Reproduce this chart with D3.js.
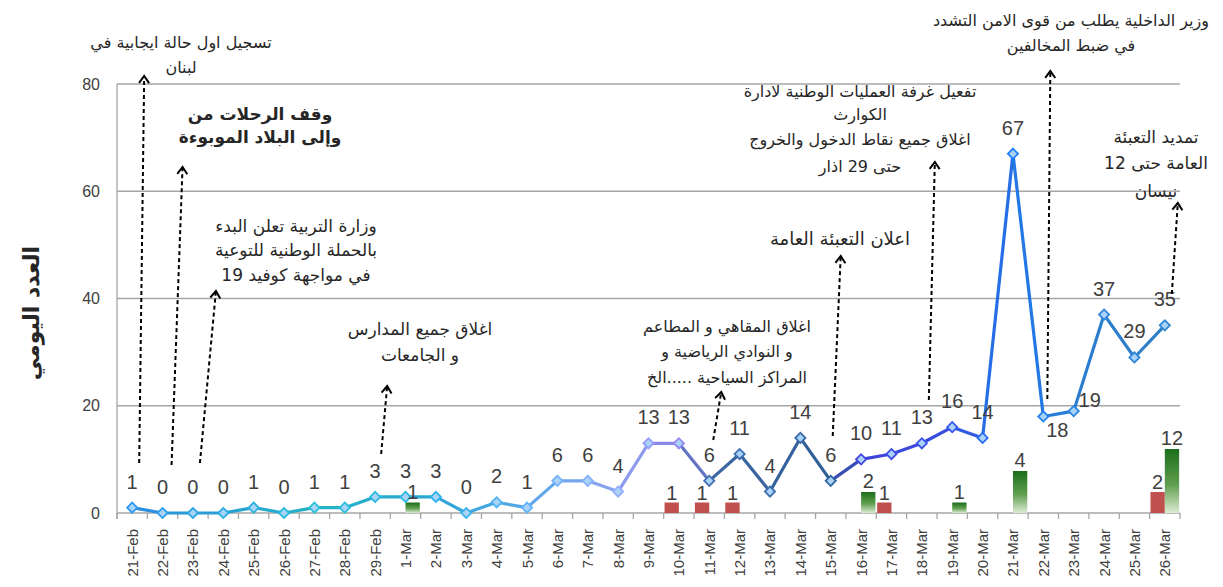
<!DOCTYPE html>
<html>
<head>
<meta charset="utf-8">
<script src="https://cdn.jsdelivr.net/npm/d3@7/dist/d3.min.js"></script>
<style>
  body { margin: 0; background: #fff; }
  svg { display: block; }
  .num { font-family: "Liberation Sans", Arial, sans-serif; fill: #404040; }
  .ar { font-family: "DejaVu Sans", sans-serif; fill: #262626; }
</style>
</head>
<body>
<div id="chart"></div>
<script>
  // ---- data ----
  var dates = ["21-Feb", "22-Feb", "23-Feb", "24-Feb", "25-Feb", "26-Feb", "27-Feb", "28-Feb", "29-Feb",
               "1-Mar", "2-Mar", "3-Mar", "4-Mar", "5-Mar", "6-Mar", "7-Mar", "8-Mar", "9-Mar", "10-Mar",
               "11-Mar", "12-Mar", "13-Mar", "14-Mar", "15-Mar", "16-Mar", "17-Mar", "18-Mar", "19-Mar",
               "20-Mar", "21-Mar", "22-Mar", "23-Mar", "24-Mar", "25-Mar", "26-Mar"];
  var daily = [1, 0, 0, 0, 1, 0, 1, 1, 3,
               3, 3, 0, 2, 1, 6, 6, 4, 13, 13,
               6, 11, 4, 14, 6, 10, 11, 13, 16,
               14, 67, 18, 19, 37, 29, 35];
  var deathDates = ["10-Mar", "11-Mar", "12-Mar", "17-Mar", "26-Mar"];
  var deathValues = [1, 1, 1, 1, 2];
  var recoveredDates = ["1-Mar", "16-Mar", "19-Mar", "21-Mar", "26-Mar"];
  var recoveredValues = [1, 2, 1, 4, 12];
  var yTicks = [0, 20, 40, 60, 80];
  var yTitle = "العدد اليومي";

  var noteDates = ["21-Feb", "22-Feb", "23-Feb", "29-Feb", "11-Mar", "15-Mar", "18-Mar", "22-Mar", "26-Mar"];
  var noteTexts = [
    ["تسجيل اول حالة ايجابية في", "لبنان"],
    ["وقف الرحلات من", "وإلى البلاد الموبوءة"],
    ["وزارة التربية تعلن البدء", "بالحملة الوطنية للتوعية", "في مواجهة كوفيد 19"],
    ["اغلاق جميع المدارس", "و الجامعات"],
    ["اغلاق المقاهي و المطاعم", "و النوادي الرياضية و", "المراكز السياحية .....الخ"],
    ["اعلان التعبئة العامة"],
    ["تفعيل غرفة العمليات الوطنية لادارة", "الكوارث", "اغلاق جميع نقاط الدخول والخروج", "حتى 29 اذار"],
    ["وزير الداخلية يطلب من قوى الامن التشدد", "في ضبط المخالفين"],
    ["تمديد التعبئة", "العامة حتى 12", "نيسان"]
  ];

  // where each note sits (text centre, line centres) and where its arrow runs
  var noteLayout = [
    {tx: 181, ty: [42, 67], fs: 16, b0: [7, 463], b1: [12, 76]},
    {tx: 260, ty: [114, 137], fs: 17, bold: true, b0: [9, 465], b1: [20, 167]},
    {tx: 296, ty: [226, 250, 275], fs: 17, b0: [7, 463], b1: [23, 291]},
    {tx: 420, ty: [329, 355], fs: 17, b0: [6, 454], b1: [12, 386]},
    {tx: 727, ty: [326, 351, 377], fs: 16, b0: [4, 440], b1: [12, 392]},
    {tx: 840, ty: [238], fs: 18, b0: [2, 436], b1: [10, 256]},
    {tx: 860, ty: [91, 114, 139, 166], fs: 16, b0: [7, 400], b1: [13, 162]},
    {tx: 1071, ty: [20, 45], fs: 16, b0: [4, 399], b1: [7, 71]},
    {tx: 1156, ty: [137, 163, 191], fs: 17, b0: [7, 294], b1: [13, 203]}
  ];

  var width = 1223, height = 587;
  var margin = {top: 84, right: 43, bottom: 74, left: 117};
  var innerW = width - margin.left - margin.right,
      innerH = height - margin.top - margin.bottom;

  var svg = d3.select("#chart")
              .append("svg")
              .attr("width", width)
              .attr("height", height);

  var x = d3.scaleBand()
            .domain(dates)
            .range([margin.left, margin.left + innerW])
            .padding(0);
  var bw = x.bandwidth();
  var cx = function(d) { return x(d) + bw / 2; };

  var y = d3.scaleLinear()
            .domain([0, 80])
            .range([margin.top + innerH, margin.top]);

  // the bars in the original follow their own (uneven) secondary scale
  var yBar = d3.scaleLinear()
               .domain([0, 4, 12])
               .range([y(0), y(0) - 42, y(0) - 64]);

  var xGroup = d3.scaleBand()
                 .domain(["deaths", "recovered"])
                 .range([0, bw])
                 .paddingInner(0)
                 .paddingOuter(0.06);

  // gridlines
  svg.append("g")
     .selectAll("line")
     .data(yTicks)
     .enter()
     .append("line")
     .attr("x1", margin.left)
     .attr("x2", margin.left + innerW)
     .attr("y1", function(d) { return y(d); })
     .attr("y2", function(d) { return y(d); })
     .attr("stroke", "#a6a6a6")
     .attr("stroke-width", 1.3);

  // left axis line
  svg.append("line")
     .attr("x1", margin.left).attr("x2", margin.left)
     .attr("y1", y(80)).attr("y2", y(0) + 6)
     .attr("stroke", "#a6a6a6")
     .attr("stroke-width", 1.3);

  // y tick labels
  svg.append("g")
     .selectAll("text")
     .data(yTicks)
     .enter()
     .append("text")
     .attr("class", "num")
     .attr("x", 100)
     .attr("y", function(d) { return y(d); })
     .attr("dy", "0.35em")
     .attr("text-anchor", "end")
     .attr("font-size", 16)
     .attr("fill", "#595959")
     .text(function(d) { return d; });

  // x ticks between categories
  svg.append("g")
     .selectAll("line")
     .data(dates.concat(["end"]))
     .enter()
     .append("line")
     .attr("x1", function(d, i) { return margin.left + i * bw; })
     .attr("x2", function(d, i) { return margin.left + i * bw; })
     .attr("y1", y(0))
     .attr("y2", y(0) + 6)
     .attr("stroke", "#a6a6a6")
     .attr("stroke-width", 1.3);

  svg.append("g")
     .selectAll("text")
     .data(dates)
     .enter()
     .append("text")
     .attr("class", "num")
     .attr("font-size", 15)
     .attr("text-anchor", "end")
     .attr("dominant-baseline", "central")
     .attr("transform", function(d) { return "translate(" + cx(d) + "," + 529 + ") rotate(-90)"; })
     .text(function(d) { return d; });

  // y title
  svg.append("text")
     .attr("class", "ar")
     .attr("transform", "translate(31,313) rotate(-90)")
     .attr("text-anchor", "middle")
     .attr("dominant-baseline", "central")
     .attr("font-size", 22)
     .attr("font-weight", "bold")
     .attr("fill", "#000")
     .text(yTitle);

  // bars
  var defs = svg.append("defs");
  var grad = defs.append("linearGradient")
                 .attr("id", "greenGrad")
                 .attr("x1", 0).attr("y1", 0).attr("x2", 0).attr("y2", 1);
  grad.append("stop").attr("offset", "0%").attr("stop-color", "#1b6e1b");
  grad.append("stop").attr("offset", "55%").attr("stop-color", "#5f9e4e");
  grad.append("stop").attr("offset", "100%").attr("stop-color", "#dcebd3");

  var deathBars = svg.append("g");
  deathBars.selectAll("rect")
           .data(deathDates)
           .enter()
           .append("rect")
           .attr("x", function(d) { return x(d) + xGroup("deaths"); })
           .attr("width", xGroup.bandwidth())
           .attr("y", function(d, i) { return yBar(deathValues[i]); })
           .attr("height", function(d, i) { return y(0) - yBar(deathValues[i]); })
           .attr("fill", "#c0504d");

  var recBars = svg.append("g");
  recBars.selectAll("rect")
         .data(recoveredDates)
         .enter()
         .append("rect")
         .attr("x", function(d) { return x(d) + xGroup("recovered"); })
         .attr("width", xGroup.bandwidth())
         .attr("y", function(d, i) { return yBar(recoveredValues[i]); })
         .attr("height", function(d, i) { return y(0) - yBar(recoveredValues[i]); })
         .attr("fill", "url(#greenGrad)");

  // line, coloured segment by segment like the original
  var segColor = d3.scaleLinear()
                   .domain([0, 6, 10, 13, 16, 18, 19, 23, 24, 27, 29, 31, 34])
                   .range(["#2b8de0", "#24b3c6", "#2aa6d8", "#5aa8ea", "#8ea2f0", "#8a80e2",
                           "#3d68a6", "#2f5f96", "#4040d6", "#3550e0", "#1f78e8", "#2a7dd2", "#2f7fc4"]);

  var line = d3.line()
               .x(function(d) { return cx(d.date); })
               .y(function(d) { return y(d.value); });

  var points = dates.map(function(d, i) { return {date: d, value: daily[i]}; });
  var segs = d3.pairs(points);

  svg.append("g")
     .selectAll("path")
     .data(segs)
     .enter()
     .append("path")
     .attr("d", function(d) { return line(d); })
     .attr("fill", "none")
     .attr("stroke", function(d, i) { return segColor(i + 0.5); })
     .attr("stroke-width", 3.2)
     .attr("stroke-linecap", "round");

  svg.append("g")
     .selectAll("path")
     .data(points)
     .enter()
     .append("path")
     .attr("d", d3.symbol().type(d3.symbolSquare).size(52))
     .attr("transform", function(d) { return "translate(" + cx(d.date) + "," + y(d.value) + ") rotate(45)"; })
     .attr("fill", "#a9d3f7")
     .attr("stroke", function(d, i) { return d3.color(segColor(i)).brighter(0.2); })
     .attr("stroke-width", 1.8);

  // value labels on the line
  var labelShift = {"22-Mar": [14, 40], "23-Mar": [16, 15]};
  svg.append("g")
     .selectAll("text")
     .data(points)
     .enter()
     .append("text")
     .attr("class", "num")
     .attr("font-size", 20)
     .attr("text-anchor", "middle")
     .attr("x", function(d) { return cx(d.date) + (labelShift[d.date] ? labelShift[d.date][0] : 0); })
     .attr("y", function(d) { return y(d.value) - 19 + (labelShift[d.date] ? labelShift[d.date][1] : 0); })
     .text(function(d) { return d.value; });

  // bar labels
  svg.append("g")
     .selectAll("text")
     .data(deathDates)
     .enter()
     .append("text")
     .attr("class", "num")
     .attr("font-size", 20)
     .attr("text-anchor", "middle")
     .attr("x", function(d) { return x(d) + xGroup("deaths") + xGroup.bandwidth() / 2; })
     .attr("y", function(d, i) { return yBar(deathValues[i]) - 3; })
     .text(function(d, i) { return deathValues[i]; });

  svg.append("g")
     .selectAll("text")
     .data(recoveredDates)
     .enter()
     .append("text")
     .attr("class", "num")
     .attr("font-size", 20)
     .attr("text-anchor", "middle")
     .attr("x", function(d) { return x(d) + xGroup("recovered") + xGroup.bandwidth() / 2; })
     .attr("y", function(d, i) { return yBar(recoveredValues[i]) - 4; })
     .text(function(d, i) { return recoveredValues[i]; });

  // annotations: dashed arrows and their texts
  var notes = svg.append("g");
  noteDates.forEach(function(d, i) {
    var lay = noteLayout[i];
    var x0 = cx(d) + lay.b0[0], y0 = lay.b0[1],
        x1 = cx(d) + lay.b1[0], y1 = lay.b1[1];

    notes.append("line")
         .attr("x1", x0).attr("y1", y0)
         .attr("x2", x1).attr("y2", y1)
         .attr("stroke", "#000")
         .attr("stroke-width", 2)
         .attr("stroke-dasharray", "4,3");

    var ang = Math.atan2(y1 - y0, x1 - x0) * 180 / Math.PI + 90;
    notes.append("path")
         .attr("d", "M-5,7 L0,0 L5,7")
         .attr("transform", "translate(" + x1 + "," + y1 + ") rotate(" + ang + ")")
         .attr("fill", "none")
         .attr("stroke", "#000")
         .attr("stroke-width", 2);

    noteTexts[i].forEach(function(t, j) {
      notes.append("text")
           .attr("class", "ar")
           .attr("x", lay.tx)
           .attr("y", lay.ty[j])
           .attr("dominant-baseline", "central")
           .attr("text-anchor", "middle")
           .attr("font-size", lay.fs)
           .attr("font-weight", lay.bold ? "bold" : "normal")
           .attr("fill", lay.bold ? "#000" : "#262626")
           .text(t);
    });
  });
</script>
</body>
</html>
